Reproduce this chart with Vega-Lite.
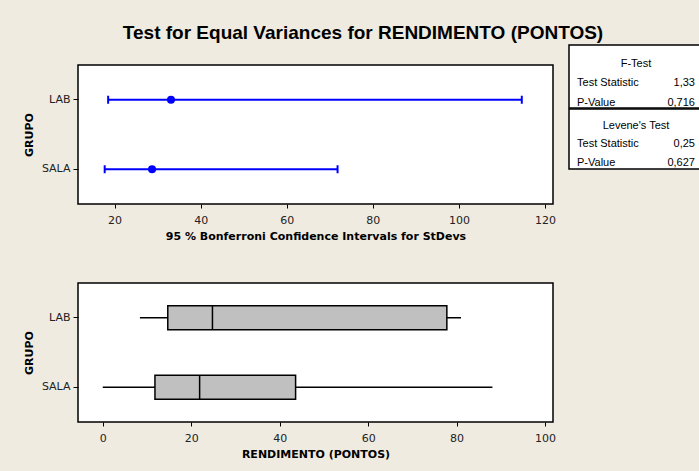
{
  "$schema": "https://vega.github.io/schema/vega-lite/v6.json",
  "background": "#EFEBE1",
  "padding": {"left": 22, "top": 24, "right": 0, "bottom": 40},
  "title": {"text": "Test for Equal Variances for RENDIMENTO (PONTOS)", "anchor": "middle", "font": "Liberation Sans", "fontSize": 19, "fontWeight": "bold", "color": "#000000", "offset": 1},
  "datasets": {
    "ci": [
      {"GRUPO": "LAB", "lower": 18.5, "stdev": 33.1, "upper": 114.6},
      {"GRUPO": "SALA", "lower": 17.7, "stdev": 28.7, "upper": 71.8}
    ],
    "box": [
      {"GRUPO": "LAB", "min": 8.4, "q1": 14.7, "median": 24.8, "q3": 77.8, "max": 81.0},
      {"GRUPO": "SALA", "min": 0, "q1": 11.8, "median": 21.9, "q3": 43.6, "max": 88.1}
    ],
    "ftest": [
      {"row": "title", "col": "head", "text": "F-Test"},
      {"row": "stat", "col": "label", "text": "Test Statistic"},
      {"row": "stat", "col": "value", "text": "1,33"},
      {"row": "p", "col": "label", "text": "P-Value"},
      {"row": "p", "col": "value", "text": "0,716"}
    ],
    "levene": [
      {"row": "title", "col": "head", "text": "Levene's Test"},
      {"row": "stat", "col": "label", "text": "Test Statistic"},
      {"row": "stat", "col": "value", "text": "0,25"},
      {"row": "p", "col": "label", "text": "P-Value"},
      {"row": "p", "col": "value", "text": "0,627"}
    ]
  },
  "config": {
    "view": {"stroke": "#000000", "strokeWidth": 1.5, "fill": "#FFFFFF"},
    "axis": {"labelFont": "DejaVu Sans", "labelFontSize": 11, "labelColor": "#222222", "titleFont": "DejaVu Sans", "titleFontSize": 11, "titleFontWeight": "bold", "titleColor": "#000000", "tickColor": "#000000", "tickSize": 4, "domain": false, "grid": false},
    "text": {"font": "Liberation Sans", "fontSize": 11, "color": "#000000", "baseline": "middle"}
  },
  "spacing": 40,
  "vconcat": [
    {
      "spacing": 11,
      "hconcat": [
        {
          "spacing": 0,
          "bounds": "flush",
          "vconcat": [
            {
              "width": 475,
              "height": 20,
              "data": {"values": []},
              "mark": "point",
              "view": {"stroke": null, "fill": null}
            },
            {
              "width": 475,
              "height": 139,
              "data": {"name": "ci"},
              "encoding": {
                "y": {"field": "GRUPO", "type": "nominal", "sort": ["LAB", "SALA"], "scale": {"type": "band", "paddingInner": 0, "paddingOuter": 0}, "axis": {"title": "GRUPO", "titleX": -46, "titleBaseline": "alphabetic", "tickSize": 5, "labelPadding": 3}}
              },
              "layer": [
                {
                  "mark": {"type": "rule", "color": "#0000FF", "strokeWidth": 2},
                  "encoding": {
                    "x": {"field": "lower", "type": "quantitative", "scale": {"domain": [11.5, 121.85], "nice": false, "zero": false}, "axis": {"title": "95 % Bonferroni Confidence Intervals for StDevs", "values": [20, 40, 60, 80, 100, 120], "labelPadding": 6, "titlePadding": 5}},
                    "x2": {"field": "upper"}
                  }
                },
                {
                  "mark": {"type": "tick", "color": "#0000FF", "thickness": 2, "size": 8, "opacity": 1},
                  "encoding": {"x": {"field": "lower", "type": "quantitative", "axis": null}}
                },
                {
                  "mark": {"type": "tick", "color": "#0000FF", "thickness": 2, "size": 8, "opacity": 1},
                  "encoding": {"x": {"field": "upper", "type": "quantitative", "axis": null}}
                },
                {
                  "mark": {"type": "point", "filled": true, "color": "#0000FF", "size": 64, "opacity": 1},
                  "encoding": {"x": {"field": "stdev", "type": "quantitative", "axis": null}}
                }
              ],
              "resolve": {"axis": {"x": "independent"}}
            }
          ]
        },
        {
          "spacing": -4,
          "vconcat": [
            {
              "width": 134,
              "height": 63,
              "data": {"name": "ftest"},
              "encoding": {
                "y": {"field": "row", "type": "nominal", "sort": ["title", "stat", "p"], "scale": {"type": "point", "padding": 0.63, "align": 0.78}, "axis": null},
                "x": {"field": "col", "type": "nominal", "sort": ["label", "head", "value"], "scale": {"type": "point", "padding": 0.136, "align": 0.5}, "axis": null},
                "text": {"field": "text"}
              },
              "layer": [
                {"transform": [{"filter": "datum.col == 'head'"}], "mark": {"type": "text", "align": "center"}},
                {"transform": [{"filter": "datum.col == 'label'"}], "mark": {"type": "text", "align": "left"}},
                {"transform": [{"filter": "datum.col == 'value'"}], "mark": {"type": "text", "align": "right"}}
              ]
            },
            {
              "width": 134,
              "height": 60,
              "data": {"name": "levene"},
              "encoding": {
                "y": {"field": "row", "type": "nominal", "sort": ["title", "stat", "p"], "scale": {"type": "point", "padding": 0.63, "align": 0.72}, "axis": null},
                "x": {"field": "col", "type": "nominal", "sort": ["label", "head", "value"], "scale": {"type": "point", "padding": 0.136, "align": 0.5}, "axis": null},
                "text": {"field": "text"}
              },
              "layer": [
                {"transform": [{"filter": "datum.col == 'head'"}], "mark": {"type": "text", "align": "center"}},
                {"transform": [{"filter": "datum.col == 'label'"}], "mark": {"type": "text", "align": "left"}},
                {"transform": [{"filter": "datum.col == 'value'"}], "mark": {"type": "text", "align": "right"}}
              ]
            }
          ]
        }
      ]
    },
    {
      "width": 475,
      "height": 139,
      "data": {"name": "box"},
      "encoding": {
        "y": {"field": "GRUPO", "type": "nominal", "sort": ["LAB", "SALA"], "scale": {"type": "band", "paddingInner": 0, "paddingOuter": 0}, "axis": {"title": "GRUPO", "titleX": -46, "titleBaseline": "alphabetic", "tickSize": 5, "labelPadding": 3}}
      },
      "layer": [
        {
          "mark": {"type": "rule", "color": "#000000", "strokeWidth": 1.5},
          "encoding": {
            "x": {"field": "min", "type": "quantitative", "title": "RENDIMENTO (PONTOS)", "scale": {"domain": [-5.6, 101.8], "nice": false, "zero": false}, "axis": {"values": [0, 20, 40, 60, 80, 100], "labelPadding": 6, "titlePadding": 5}},
            "x2": {"field": "max"}
          }
        },
        {
          "mark": {"type": "bar", "fill": "#C0C0C0", "stroke": "#000000", "strokeWidth": 1.5, "size": 24},
          "encoding": {
            "x": {"field": "q1", "type": "quantitative", "title": "RENDIMENTO (PONTOS)"},
            "x2": {"field": "q3"}
          }
        },
        {
          "mark": {"type": "tick", "color": "#000000", "thickness": 1.5, "size": 24, "opacity": 1},
          "encoding": {"x": {"field": "median", "type": "quantitative", "title": "RENDIMENTO (PONTOS)"}}
        }
      ]
    }
  ]
}
